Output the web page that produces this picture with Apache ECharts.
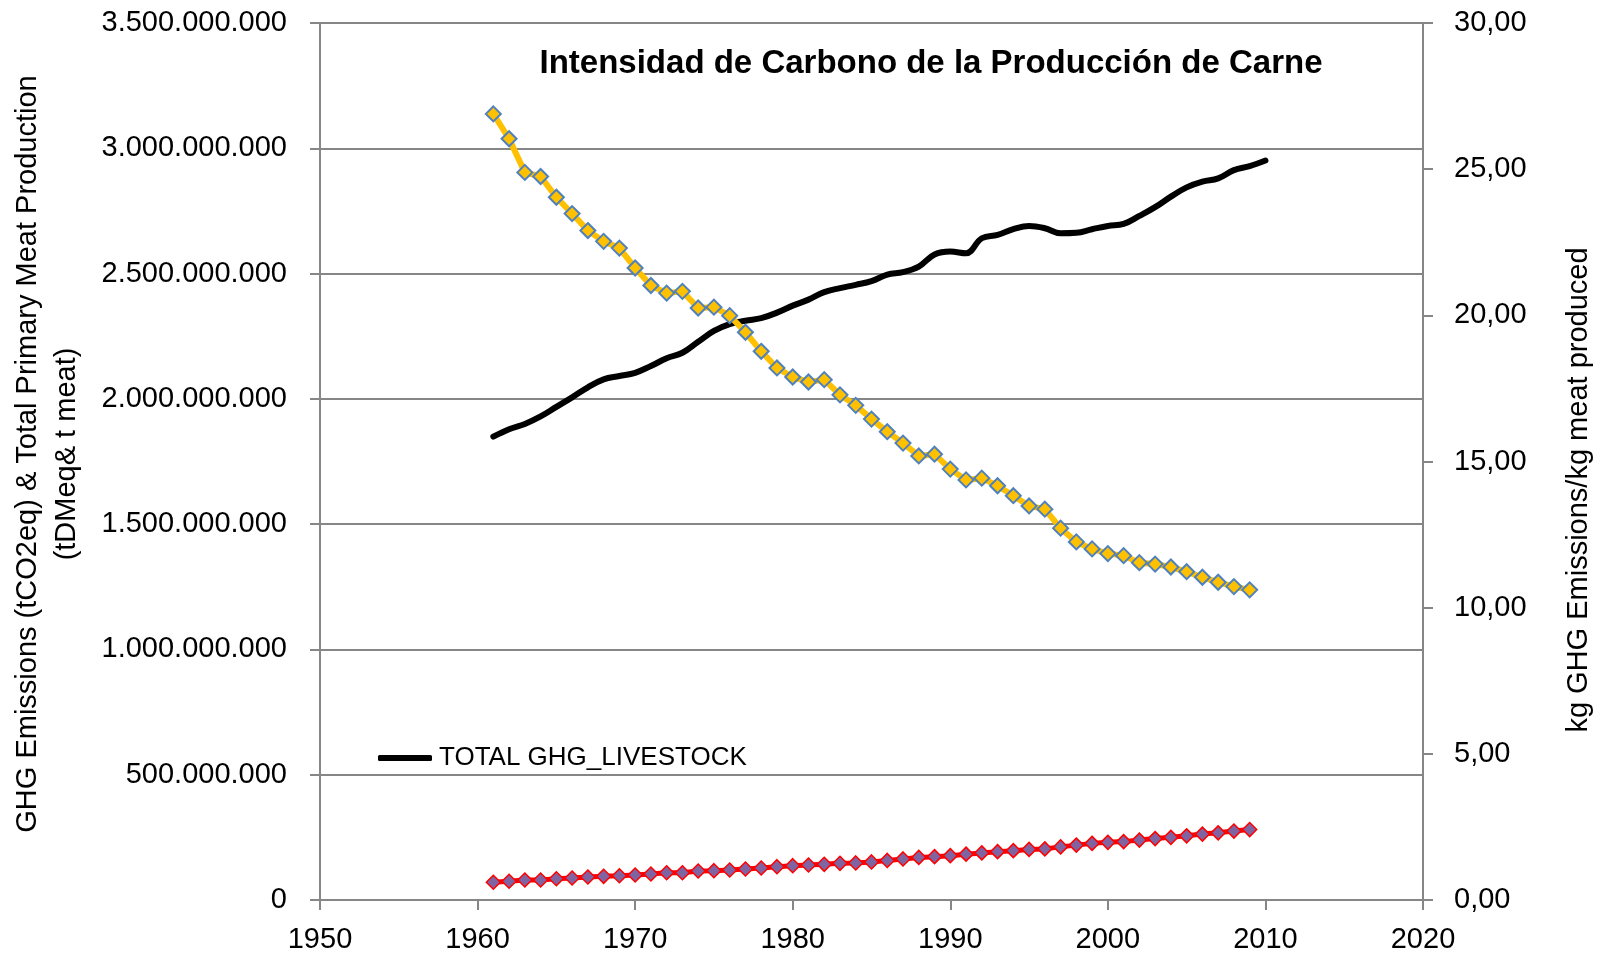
<!DOCTYPE html>
<html>
<head>
<meta charset="utf-8">
<title>Intensidad de Carbono de la Producción de Carne</title>
<script src="https://cdn.jsdelivr.net/npm/echarts@6/dist/echarts.min.js"></script>
<style>
  html, body { margin: 0; padding: 0; background: #fff; }
  #chart { width: 1608px; height: 957px; }
</style>
</head>
<body>
<div id="chart"></div>
<script>
// años
var years = [];
for (var y = 1961; y <= 2010; y++) years.push(y);

// TOTAL GHG_LIVESTOCK (millones tCO2eq), 1961-2010
var ghgTotal = [1849, 1879, 1900, 1930, 1968, 2006, 2046, 2078, 2091, 2104,
  2131, 2162, 2184, 2228, 2271, 2298, 2312, 2322, 2344, 2372,
  2396, 2426, 2442, 2455, 2470, 2496, 2506, 2528, 2576, 2588,
  2581, 2641, 2654, 2677, 2690, 2681, 2661, 2663, 2677, 2690,
  2698, 2730, 2765, 2807, 2844, 2867, 2880, 2913, 2929, 2951];

// producción primaria de carne (millones t), 1961-2009
var meatProd = [70.6, 74.6, 79.8, 80, 85, 87.8, 91.8, 94.5, 97, 99.8,
  103.8, 109, 109, 115.7, 117, 119.7, 123.7, 127.7, 133, 137,
  139.7, 142.4, 146.4, 148, 152, 158, 164, 170, 173, 177,
  183, 188, 193, 197, 202, 204, 212, 219, 226, 230,
  233, 239, 245, 250, 256, 263, 268, 275, 281];

// kg GHG / kg carne, 1961-2009
var intensity = [26.89, 26.04, 24.89, 24.75, 24.04, 23.48, 22.90, 22.53, 22.30, 21.62,
  21.02, 20.76, 20.82, 20.25, 20.28, 19.99, 19.42, 18.77, 18.20, 17.89,
  17.72, 17.80, 17.28, 16.92, 16.45, 16.02, 15.63, 15.19, 15.25, 14.74,
  14.37, 14.43, 14.17, 13.83, 13.48, 13.37, 12.72, 12.25, 12.01, 11.85,
  11.78, 11.54, 11.49, 11.39, 11.23, 11.04, 10.87, 10.72, 10.61];

var FONT = '"Liberation Sans", Arial, sans-serif';
var GRAY = '#868686';

function pairs(vals, mult) {
  return vals.map(function (v, i) { return [years[i], v * mult]; });
}

function dots(v) {
  return String(v).replace(/\B(?=(\d{3})+(?!\d))/g, '.');
}

var chart = echarts.init(document.getElementById('chart'));
chart.setOption({
  animation: false,
  backgroundColor: '#fff',
  title: {
    text: 'Intensidad de Carbono de la Producción de Carne',
    left: 931,
    top: 47,
    padding: 0,
    textAlign: 'center',
    textStyle: { fontFamily: FONT, fontSize: 33, fontWeight: 'bold', color: '#000' }
  },
  legend: {
    data: [{ name: 'TOTAL GHG_LIVESTOCK', icon: 'roundRect' }],
    left: 378,
    top: 745,
    padding: 0,
    itemWidth: 54,
    itemHeight: 6,
    itemGap: 8,
    itemStyle: { color: '#000', borderWidth: 0 },
    textStyle: { fontFamily: FONT, fontSize: 26, color: '#000', padding: [0, 0, 0, 2] }
  },
  grid: { left: 320, right: 185, top: 23, bottom: 57, containLabel: false },
  graphic: [
    {
      type: 'text',
      x: 47, y: 454,
      rotation: Math.PI / 2,
      style: {
        text: 'GHG Emissions (tCO2eq) & Total Primary Meat Production\n(tDMeq& t meat)',
        fontFamily: FONT, fontSize: 29, lineHeight: 39,
        align: 'center', verticalAlign: 'middle', fill: '#000'
      }
    },
    {
      type: 'text',
      x: 1579, y: 490,
      rotation: Math.PI / 2,
      style: {
        text: 'kg GHG Emissions/kg meat produced',
        fontFamily: FONT, fontSize: 29,
        align: 'center', verticalAlign: 'middle', fill: '#000'
      }
    }
  ],
  xAxis: {
    type: 'value',
    min: 1950, max: 2020, interval: 10,
    axisLine: { lineStyle: { color: GRAY, width: 2 } },
    axisTick: { show: true, length: 10, lineStyle: { color: GRAY, width: 2 } },
    axisLabel: {
      margin: 25, fontFamily: FONT, fontSize: 29, color: '#000',
      formatter: function (v) { return String(v); }
    },
    splitLine: { show: false }
  },
  yAxis: [
    {
      type: 'value',
      min: 0, max: 3500000000, interval: 500000000,
      axisLine: { show: true, lineStyle: { color: GRAY, width: 2 } },
      axisTick: { show: true, length: 10, lineStyle: { color: GRAY, width: 2 } },
      axisLabel: { margin: 33, fontFamily: FONT, fontSize: 29, color: '#000', formatter: dots },
      splitLine: { show: true, lineStyle: { color: GRAY, width: 2 } }
    },
    {
      type: 'value',
      position: 'right',
      min: 0, max: 30, interval: 5,
      axisLine: { show: true, lineStyle: { color: GRAY, width: 2 } },
      axisTick: { show: true, length: 10, lineStyle: { color: GRAY, width: 2 } },
      axisLabel: {
        margin: 31, fontFamily: FONT, fontSize: 29, color: '#000',
        formatter: function (v) { return v.toFixed(2).replace('.', ','); }
      },
      splitLine: { show: false }
    }
  ],
  series: [
    {
      name: 'TOTAL GHG_LIVESTOCK',
      type: 'line',
      yAxisIndex: 0,
      data: pairs(ghgTotal, 1e6),
      smooth: 0.4,
      symbol: 'none',
      lineStyle: { color: '#000', width: 6, cap: 'round' },
      itemStyle: { color: '#000' },
      z: 3
    },
    {
      name: 'kg GHG / kg meat',
      type: 'line',
      yAxisIndex: 1,
      data: pairs(intensity, 1),
      symbol: 'diamond',
      symbolSize: 15,
      lineStyle: { color: '#FFC000', width: 6 },
      itemStyle: { color: '#FFC000', borderColor: '#4F81BD', borderWidth: 2 },
      z: 4
    },
    {
      name: 'Total Primary Meat Production',
      type: 'line',
      yAxisIndex: 0,
      data: pairs(meatProd, 1e6),
      symbol: 'diamond',
      symbolSize: 14,
      lineStyle: { color: '#FF0000', width: 5 },
      itemStyle: { color: '#8064A2', borderColor: '#FF0000', borderWidth: 1.5 },
      z: 5
    }
  ]
});
</script>
</body>
</html>
